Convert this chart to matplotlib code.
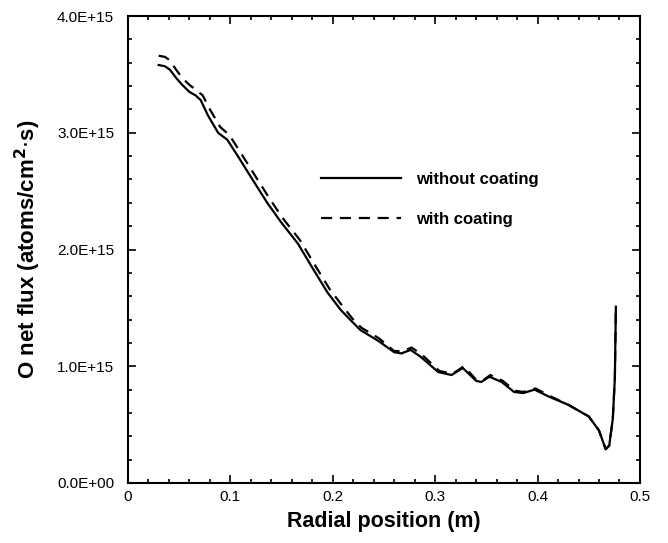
import matplotlib
matplotlib.use("Agg")
import matplotlib.pyplot as plt
from matplotlib.ticker import MultipleLocator, AutoMinorLocator, FuncFormatter

plt.rcParams["font.family"] = ["Liberation Sans", "DejaVu Sans"]

# Radial position (m) and O net flux (units of 1E+15 atoms/cm^2.s)
x_without = [0.030, 0.036, 0.041, 0.047, 0.053, 0.060, 0.066, 0.071, 0.078, 0.088,
             0.097, 0.108, 0.123, 0.136, 0.149, 0.166, 0.181, 0.195, 0.208, 0.218,
             0.227, 0.244, 0.260, 0.267, 0.276, 0.286, 0.303, 0.316, 0.327, 0.340,
             0.345, 0.353, 0.365, 0.377, 0.386, 0.397, 0.411, 0.430, 0.450, 0.460,
             0.4665, 0.470, 0.4735, 0.4755, 0.4765]
y_without = [3.58, 3.57, 3.54, 3.47, 3.41, 3.35, 3.32, 3.28, 3.15, 3.00,
             2.94, 2.79, 2.58, 2.40, 2.24, 2.05, 1.83, 1.63, 1.48, 1.39,
             1.31, 1.22, 1.12, 1.11, 1.14, 1.08, 0.95, 0.925, 0.985, 0.875,
             0.865, 0.91, 0.865, 0.78, 0.77, 0.80, 0.74, 0.67, 0.57, 0.45,
             0.29, 0.32, 0.55, 0.90, 1.51]

x_with = [0.030, 0.036, 0.041, 0.047, 0.053, 0.060, 0.066, 0.073, 0.080, 0.090,
          0.099, 0.110, 0.125, 0.138, 0.151, 0.168, 0.183, 0.197, 0.210, 0.219,
          0.228, 0.245, 0.260, 0.268, 0.277, 0.287, 0.304, 0.317, 0.328, 0.340,
          0.346, 0.354, 0.366, 0.378, 0.386, 0.398, 0.412, 0.430, 0.450, 0.460,
          0.4665, 0.470, 0.4735, 0.4755, 0.4765]
y_with = [3.66, 3.65, 3.62, 3.54, 3.47, 3.41, 3.37, 3.32, 3.20, 3.05,
          2.98, 2.83, 2.62, 2.44, 2.27, 2.08, 1.86, 1.66, 1.51, 1.41,
          1.33, 1.24, 1.13, 1.13, 1.16, 1.10, 0.96, 0.935, 1.00, 0.885,
          0.875, 0.925, 0.875, 0.79, 0.78, 0.81, 0.745, 0.67, 0.57, 0.45,
          0.29, 0.32, 0.55, 0.90, 1.51]

fig = plt.figure(figsize=(6.68, 5.43), dpi=100)
ax = fig.add_axes([0.1916, 0.1105, 0.7664, 0.86])

ax.plot(x_without, y_without, color="black", linewidth=1.6, label="without coating")
ax.plot(x_with, y_with, color="black", linewidth=1.6, linestyle=(0, (5, 3.5)),
        label="with coating")

ax.set_xlim(0, 0.5)
ax.set_ylim(0, 4.0)
ax.xaxis.set_major_locator(MultipleLocator(0.1))
ax.yaxis.set_major_locator(MultipleLocator(1.0))
ax.xaxis.set_minor_locator(AutoMinorLocator(5))
ax.yaxis.set_minor_locator(AutoMinorLocator(5))
ax.xaxis.set_major_formatter(FuncFormatter(lambda v, p: "0" if abs(v) < 1e-9 else f"{v:.1f}"))
ax.yaxis.set_major_formatter(
    FuncFormatter(lambda v, p: "0.0E+00" if abs(v) < 1e-9 else f"{v:.1f}E+15"))

ax.tick_params(which="both", direction="in", top=True, right=True, labelsize=11,
               width=1.2)
ax.tick_params(which="major", length=6)
ax.tick_params(which="minor", length=3)
ax.tick_params(axis="x", pad=5)
ax.tick_params(axis="y", pad=10)
for s in ax.spines.values():
    s.set_linewidth(1.5)

ax.set_xlabel("Radial position (m)", fontsize=15.5, fontweight="bold", labelpad=5)
ax.set_ylabel("O net flux (atoms/cm$^\\mathbf{2}$$\\cdot$s)", fontsize=16,
              fontweight="bold", labelpad=10)

ax.legend(loc="upper left", bbox_to_anchor=(0.348, 0.698), frameon=False,
          prop={"weight": "bold", "size": 12}, handlelength=4.8,
          handletextpad=0.9, labelspacing=1.5)

fig.savefig("out.png", dpi=100)
